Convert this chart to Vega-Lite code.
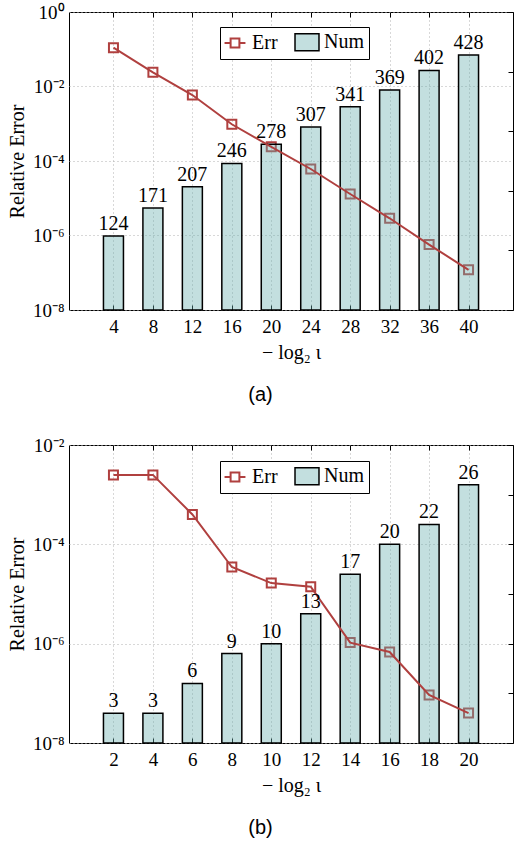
{
  "$schema": "https://vega.github.io/schema/vega-lite/v6.json",
  "padding": {"left": 6, "top": 2, "right": 0, "bottom": 0},
  "background": "white",
  "spacing": 29,
  "config": {
    "view": {"stroke": "black", "strokeWidth": 1},
    "font": "Liberation Serif"
  },
  "datasets": {
    "dsA": [
      {"x": 4, "err": 0.11, "num": 124},
      {"x": 8, "err": 0.024, "num": 171},
      {"x": 12, "err": 0.0059, "num": 207},
      {"x": 16, "err": 0.00097, "num": 246},
      {"x": 20, "err": 0.00024, "num": 278},
      {"x": 24, "err": 0.000061, "num": 307},
      {"x": 28, "err": 0.000013, "num": 341},
      {"x": 32, "err": 0.0000029, "num": 369},
      {"x": 36, "err": 0.00000057, "num": 402},
      {"x": 40, "err": 0.00000012, "num": 428}
    ],
    "dsB": [
      {"x": 2, "err": 0.0025, "num": 3},
      {"x": 4, "err": 0.0025, "num": 3},
      {"x": 6, "err": 0.0004, "num": 6},
      {"x": 8, "err": 0.000035, "num": 9},
      {"x": 10, "err": 0.0000166, "num": 10},
      {"x": 12, "err": 0.000014, "num": 13},
      {"x": 14, "err": 0.00000105, "num": 17},
      {"x": 16, "err": 0.00000068, "num": 20},
      {"x": 18, "err": 0.000000093, "num": 22},
      {"x": 20, "err": 0.00000004, "num": 26}
    ]
  },
  "resolve": {"scale": {"fill": "independent"}, "legend": {"fill": "independent"}},
  "vconcat": [
    {
      "width": 444,
      "height": 298,
      "data": {"name": "dsA"},
      "title": {"text": "(a)", "orient": "bottom", "font": "Liberation Sans", "fontSize": 20, "fontWeight": "normal", "anchor": "middle", "frame": "bounds", "offset": 23, "color": "black"},
      "resolve": {"scale": {"y": "independent"}, "axis": {"x": "independent"}},
      "layer": [
        {
          "mark": {"type": "point", "shape": "square", "size": 81, "strokeWidth": 2, "color": "#b0403f", "filled": false, "opacity": 1},
          "encoding": {
            "x": {"field": "x", "type": "quantitative", "scale": {"domain": [0, 44], "nice": false, "zero": false}, "axis": null},
            "y": {"field": "err", "type": "quantitative", "scale": {"type": "log", "domain": [1e-8, 1], "nice": false}, "axis": null}
          }
        },
        {
          "mark": {"type": "bar", "width": 20, "stroke": "black", "strokeWidth": 1.5, "fillOpacity": 0.4},
          "encoding": {
            "x": {"field": "x", "type": "quantitative", "scale": {"domain": [0, 44], "nice": false, "zero": false},
              "axis": {"orient": "bottom", "values": [4, 8, 12, 16, 20, 24, 28, 32, 36, 40], "tickSize": -5, "tickColor": "black", "labelPadding": 12, "labelFont": "Liberation Serif", "labelFontSize": 19, "labelColor": "black", "domain": false, "grid": true, "gridDash": [1, 3], "gridColor": "#b0b0b0", "title": "− log₂ ι", "titleFont": "Liberation Serif", "titleFontSize": 20, "titleFontWeight": "normal", "titleColor": "black", "titlePadding": 6}},
            "y": {"field": "num", "type": "quantitative", "scale": {"domain": [0, 500], "nice": false},
              "axis": {"orient": "right", "values": [0, 100, 200, 300, 400, 500], "labels": false, "tickSize": -5, "tickColor": "black", "domain": false, "grid": false, "title": null}},
            "fill": {"datum": "Num", "scale": {"domain": ["Err", "Num"], "range": ["#ffffff", "#6aaeb0"]},
              "legend": {"orient": "none", "legendX": 151, "legendY": 15, "direction": "horizontal", "title": null, "strokeColor": "black", "fillColor": "white", "padding": 5, "symbolSize": 484, "labelFont": "Liberation Serif", "labelFontSize": 20, "labelColor": "black", "labelOffset": 7, "columnPadding": 14,
                "encoding": {"symbols": {
                  "shape": {"value": {"expr": "datum.value === 'Err' ? 'M-0.95,0H-0.4M0.4,0H0.95M-0.4,-0.4H0.4V0.4H-0.4Z' : 'M-1.09,-0.77H1.09V0.77H-1.09Z'"}},
                  "fill": {"value": {"expr": "datum.value === 'Err' ? 'transparent' : '#6aaeb0'"}},
                  "stroke": {"value": {"expr": "datum.value === 'Err' ? '#b0403f' : 'black'"}},
                  "strokeWidth": {"value": {"expr": "datum.value === 'Err' ? 2 : 1.5"}},
                  "opacity": {"value": 1}, "fillOpacity": {"value": {"expr": "datum.value === 'Err' ? 0 : 0.4"}}, "strokeOpacity": {"value": 1}
                }}}}
          }
        },
        {
          "mark": {"type": "line", "color": "#b0403f", "strokeWidth": 2},
          "encoding": {
            "x": {"field": "x", "type": "quantitative", "scale": {"domain": [0, 44], "nice": false, "zero": false},
              "axis": {"orient": "top", "values": [4, 8, 12, 16, 20, 24, 28, 32, 36, 40], "labels": false, "tickSize": -5, "tickColor": "black", "domain": false, "grid": false, "title": null}},
            "y": {"field": "err", "type": "quantitative", "scale": {"type": "log", "domain": [1e-8, 1], "nice": false},
              "axis": {"orient": "left", "values": [1e-8, 1e-6, 1e-4, 1e-2, 1], "labelExpr": "'10' + (round(log(datum.value)/LN10) < 0 ? '⁻' : '') + substring('⁰¹²³⁴⁵⁶⁷⁸⁹', abs(round(log(datum.value)/LN10)), abs(round(log(datum.value)/LN10)) + 1)", "tickSize": 0, "labelPadding": 5, "labelFont": "Liberation Serif", "labelFontSize": 19, "labelColor": "black", "domain": false, "grid": true, "gridDash": [1, 3], "gridColor": "#b0b0b0", "title": "Relative Error", "titleFont": "Liberation Serif", "titleFontSize": 20, "titleFontWeight": "normal", "titleColor": "black", "titlePadding": 5}}
          }
        },
        {
          "mark": {"type": "text", "font": "Liberation Serif", "fontSize": 20, "dy": -6, "baseline": "alphabetic", "color": "black"},
          "encoding": {
            "x": {"field": "x", "type": "quantitative", "scale": {"domain": [0, 44], "nice": false, "zero": false}, "axis": null},
            "y": {"field": "num", "type": "quantitative", "scale": {"domain": [0, 500], "nice": false}, "axis": null},
            "text": {"field": "num", "type": "quantitative"}
          }
        }
      ]
    },
    {
      "width": 444,
      "height": 298,
      "data": {"name": "dsB"},
      "title": {"text": "(b)", "orient": "bottom", "font": "Liberation Sans", "fontSize": 20, "fontWeight": "normal", "anchor": "middle", "frame": "bounds", "offset": 23, "color": "black"},
      "resolve": {"scale": {"y": "independent"}, "axis": {"x": "independent"}},
      "layer": [
        {
          "mark": {"type": "point", "shape": "square", "size": 81, "strokeWidth": 2, "color": "#b0403f", "filled": false, "opacity": 1},
          "encoding": {
            "x": {"field": "x", "type": "quantitative", "scale": {"domain": [0, 22], "nice": false, "zero": false}, "axis": null},
            "y": {"field": "err", "type": "quantitative", "scale": {"type": "log", "domain": [1e-8, 0.01], "nice": false}, "axis": null}
          }
        },
        {
          "mark": {"type": "bar", "width": 20, "stroke": "black", "strokeWidth": 1.5, "fillOpacity": 0.4},
          "encoding": {
            "x": {"field": "x", "type": "quantitative", "scale": {"domain": [0, 22], "nice": false, "zero": false},
              "axis": {"orient": "bottom", "values": [2, 4, 6, 8, 10, 12, 14, 16, 18, 20], "tickSize": -5, "tickColor": "black", "labelPadding": 12, "labelFont": "Liberation Serif", "labelFontSize": 19, "labelColor": "black", "domain": false, "grid": true, "gridDash": [1, 3], "gridColor": "#b0b0b0", "title": "− log₂ ι", "titleFont": "Liberation Serif", "titleFontSize": 20, "titleFontWeight": "normal", "titleColor": "black", "titlePadding": 6}},
            "y": {"field": "num", "type": "quantitative", "scale": {"domain": [0, 30], "nice": false},
              "axis": {"orient": "right", "values": [0, 5, 10, 15, 20, 25, 30], "labels": false, "tickSize": -5, "tickColor": "black", "domain": false, "grid": false, "title": null}},
            "fill": {"datum": "Num", "scale": {"domain": ["Err", "Num"], "range": ["#ffffff", "#6aaeb0"]},
              "legend": {"orient": "none", "legendX": 151, "legendY": 16, "direction": "horizontal", "title": null, "strokeColor": "black", "fillColor": "white", "padding": 5, "symbolSize": 484, "labelFont": "Liberation Serif", "labelFontSize": 20, "labelColor": "black", "labelOffset": 7, "columnPadding": 14,
                "encoding": {"symbols": {
                  "shape": {"value": {"expr": "datum.value === 'Err' ? 'M-0.95,0H-0.4M0.4,0H0.95M-0.4,-0.4H0.4V0.4H-0.4Z' : 'M-1.09,-0.77H1.09V0.77H-1.09Z'"}},
                  "fill": {"value": {"expr": "datum.value === 'Err' ? 'transparent' : '#6aaeb0'"}},
                  "stroke": {"value": {"expr": "datum.value === 'Err' ? '#b0403f' : 'black'"}},
                  "strokeWidth": {"value": {"expr": "datum.value === 'Err' ? 2 : 1.5"}},
                  "opacity": {"value": 1}, "fillOpacity": {"value": {"expr": "datum.value === 'Err' ? 0 : 0.4"}}, "strokeOpacity": {"value": 1}
                }}}}
          }
        },
        {
          "mark": {"type": "line", "color": "#b0403f", "strokeWidth": 2},
          "encoding": {
            "x": {"field": "x", "type": "quantitative", "scale": {"domain": [0, 22], "nice": false, "zero": false},
              "axis": {"orient": "top", "values": [2, 4, 6, 8, 10, 12, 14, 16, 18, 20], "labels": false, "tickSize": -5, "tickColor": "black", "domain": false, "grid": false, "title": null}},
            "y": {"field": "err", "type": "quantitative", "scale": {"type": "log", "domain": [1e-8, 0.01], "nice": false},
              "axis": {"orient": "left", "values": [1e-8, 1e-6, 1e-4, 1e-2], "labelExpr": "'10' + (round(log(datum.value)/LN10) < 0 ? '⁻' : '') + substring('⁰¹²³⁴⁵⁶⁷⁸⁹', abs(round(log(datum.value)/LN10)), abs(round(log(datum.value)/LN10)) + 1)", "tickSize": 0, "labelPadding": 5, "labelFont": "Liberation Serif", "labelFontSize": 19, "labelColor": "black", "domain": false, "grid": true, "gridDash": [1, 3], "gridColor": "#b0b0b0", "title": "Relative Error", "titleFont": "Liberation Serif", "titleFontSize": 20, "titleFontWeight": "normal", "titleColor": "black", "titlePadding": 5}}
          }
        },
        {
          "mark": {"type": "text", "font": "Liberation Serif", "fontSize": 20, "dy": -6, "baseline": "alphabetic", "color": "black"},
          "encoding": {
            "x": {"field": "x", "type": "quantitative", "scale": {"domain": [0, 22], "nice": false, "zero": false}, "axis": null},
            "y": {"field": "num", "type": "quantitative", "scale": {"domain": [0, 30], "nice": false}, "axis": null},
            "text": {"field": "num", "type": "quantitative"}
          }
        }
      ]
    }
  ]
}
